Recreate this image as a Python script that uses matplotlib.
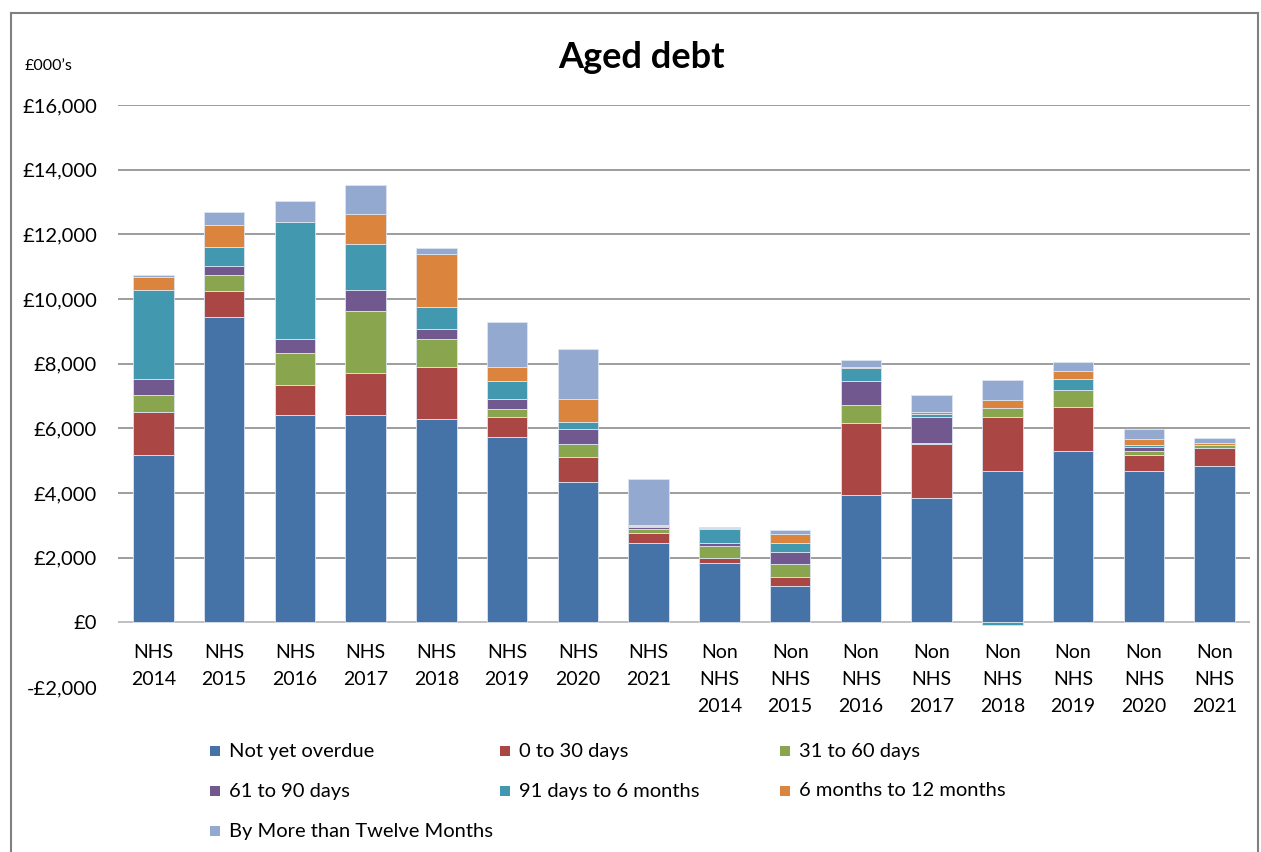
import numpy as np
import matplotlib
matplotlib.use("Agg")
import matplotlib.pyplot as plt
from matplotlib.patches import Rectangle
from matplotlib.lines import Line2D

plt.rcParams['font.family'] = ['Lato', 'DejaVu Sans']

# kategorie na ose x
categories = ["NHS\n2014", "NHS\n2015", "NHS\n2016", "NHS\n2017", "NHS\n2018", "NHS\n2019",
              "NHS\n2020", "NHS\n2021", "Non\nNHS\n2014", "Non\nNHS\n2015", "Non\nNHS\n2016",
              "Non\nNHS\n2017", "Non\nNHS\n2018", "Non\nNHS\n2019", "Non\nNHS\n2020", "Non\nNHS\n2021"]

# hodnoty v tisicich liber
not_yet_overdue = [5165, 9454, 6402, 6423, 6278, 5742, 4330, 2443, 1845, 1124, 3948, 3845, 4691, 5309, 4691, 4825]
days_0_30 = [1330, 783, 949, 1288, 1629, 619, 794, 320, 134, 288, 2227, 1670, 1649, 1351, 495, 556]
days_31_60 = [525, 495, 989, 1928, 856, 237, 391, 113, 392, 402, 547, 42, 289, 526, 123, 93]
days_61_90 = [495, 299, 423, 629, 299, 320, 454, 60, 72, 361, 732, 783, 0, 0, 114, 10]
days_91_6m = [2755, 588, 3608, 1443, 680, 536, 237, 40, 454, 268, 422, 93, -80, 350, 62, 10]
months_6_12 = [400, 659, 0, 918, 1639, 453, 691, 30, 20, 289, 31, 72, 258, 237, 175, 52]
over_12m = [60, 423, 649, 886, 196, 1382, 1567, 1413, 42, 124, 196, 516, 598, 268, 330, 165]

series_names = ["Not yet overdue", "0 to 30 days", "31 to 60 days", "61 to 90 days",
                "91 days to 6 months", "6 months to 12 months", "By More than Twelve Months"]
series_values = [not_yet_overdue, days_0_30, days_31_60, days_61_90, days_91_6m, months_6_12, over_12m]
colors = ["#4572A7", "#AA4643", "#89A54E", "#71588F", "#4198AF", "#DB843D", "#93A9CF"]

yticks = [-2000, 0, 2000, 4000, 6000, 8000, 10000, 12000, 14000, 16000]
ytick_labels = ["-£2,000", "£0", "£2,000", "£4,000", "£6,000", "£8,000", "£10,000",
                "£12,000", "£14,000", "£16,000"]

fig = plt.figure(figsize=(12.61, 8.52), dpi=100)
ax = fig.add_axes([118 / 1261, 1 - 687 / 852, 1132 / 1261, 582 / 852])

x = np.arange(len(categories))
pos_bottom = np.zeros(len(categories))
neg_bottom = np.zeros(len(categories))
for vals, col in zip(series_values, colors):
    vals = np.array(vals, dtype=float)
    bottom = np.where(vals >= 0, pos_bottom, neg_bottom)
    ax.bar(x, vals, 0.57, bottom=bottom, color=col, edgecolor="#dce4f0", linewidth=0.6, zorder=3)
    pos_bottom += np.where(vals >= 0, vals, 0)
    neg_bottom += np.where(vals < 0, vals, 0)

ax.set_xlim(-0.5, len(categories) - 0.5)
ax.set_ylim(-2000, 16000)
ax.set_yticks(yticks)
ax.set_yticklabels(ytick_labels, fontsize=14.5)
ax.set_xticks([])
ax.tick_params(axis="y", length=0, pad=15)
for y in yticks[1:]:
    ax.axhline(y, color="#8c8c8c" if y != 0 else "#b5b5b5", linewidth=1.2, zorder=1)
for s in ax.spines.values():
    s.set_visible(False)

# popisky kategorii pod nulovou osou
for i, lab in enumerate(categories):
    ax.text(i, -660, lab, ha="center", va="top", fontsize=14, linespacing=1.72)

fig.text(641 / 1261, 1 - 57 / 852, "Aged debt", ha="center", va="center",
         fontsize=26, fontweight="bold")
fig.text(25 / 1261, 1 - 66 / 852, "£000\u2019s", ha="left", va="center", fontsize=11.5)

# legenda - rucne po radcich
leg_x = [215, 505, 785]
leg_y = [751, 791, 831]
for k, (name, col) in enumerate(zip(series_names, colors)):
    r, c = divmod(k, 3)
    px, py = leg_x[c], leg_y[r]
    fig.patches.append(Rectangle(((px - 5) / 1261, 1 - (py + 5) / 852), 10 / 1261, 10 / 852,
                                 transform=fig.transFigure, facecolor=col, edgecolor="none"))
    fig.text((px + 14) / 1261, 1 - py / 852, name, ha="left", va="center", fontsize=14.5)

# ramecek grafu
for xs, ys in [([11, 11], [13, 852]), ([11, 1258], [13, 13]), ([1258, 1258], [13, 852])]:
    fig.lines.append(Line2D([v / 1261 for v in xs], [1 - v / 852 for v in ys],
                            transform=fig.transFigure, color="#808080", linewidth=1.5))

fig.savefig("out.png", dpi=100)
